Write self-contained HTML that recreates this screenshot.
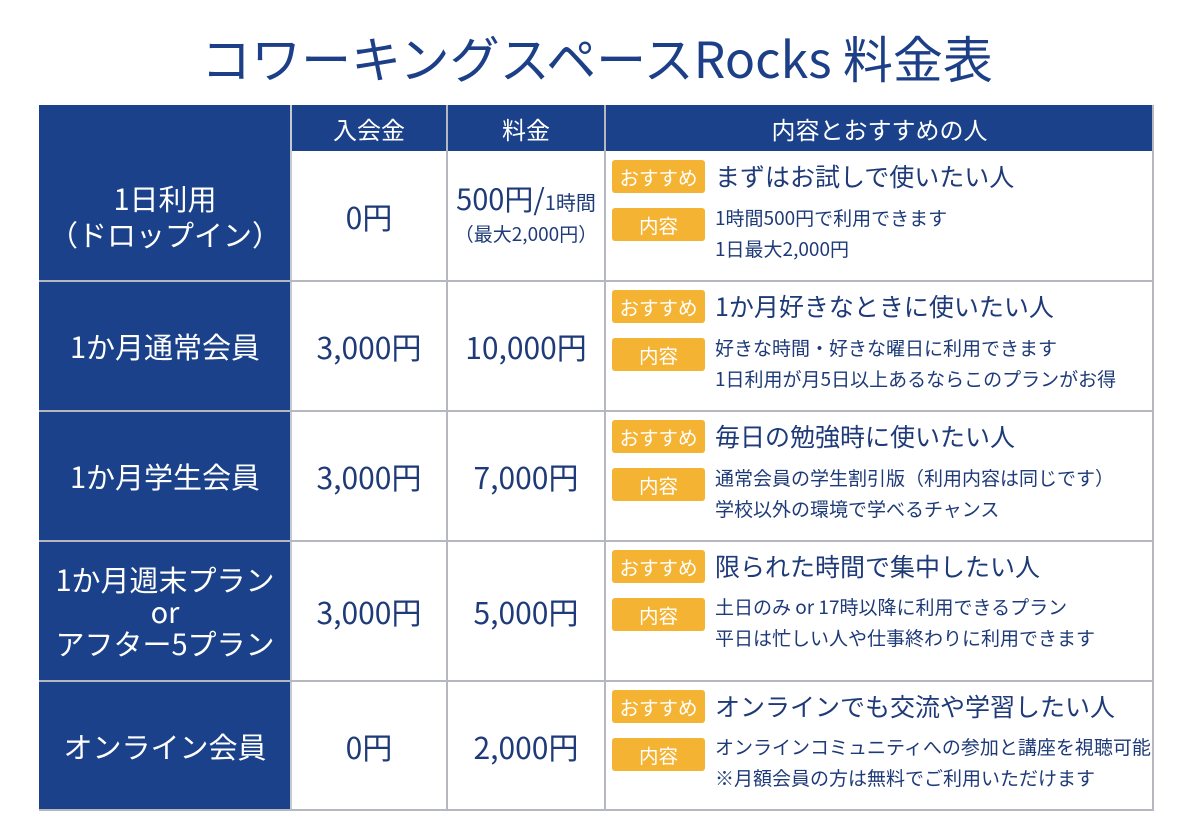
<!DOCTYPE html>
<html><head><meta charset="utf-8"><style>
*{margin:0;padding:0;box-sizing:border-box}
body{width:1194px;height:834px;background:#fff;position:relative;overflow:hidden;font-family:"Noto Sans CJK JP","Liberation Sans",sans-serif;color:#1e3a78}
.a{position:absolute}
.t{left:0;width:1194px;top:22px;text-align:center;font-size:50px;line-height:70px;color:#1c3f87}
.nav{background:#1a4189}
.c{display:flex;align-items:center;justify-content:center;text-align:center}
.w{color:#fff}
.b{position:absolute;left:612px;width:93px;height:33px;background:#f4b332;border-radius:3px;color:#fff;font-size:19.5px;display:flex;align-items:center;justify-content:center}
.r{position:absolute;left:715px;font-size:25px;line-height:32px;white-space:nowrap}
.d{position:absolute;left:715px;font-size:19px;line-height:31px;white-space:nowrap}
.h{position:absolute;background:#b5b8c0;height:2px}
.v{position:absolute;background:#b5b8c0;width:2px}
.L{font-size:29px}
.P{font-size:30px}
</style></head><body>
<div class="a t">コワーキングスペースRocks 料金表</div>
<div class="a nav" style="left:39px;top:105px;width:1115px;height:46px"></div>
<div class="a nav" style="left:39px;top:105px;width:252px;height:706px"></div>
<div class="a c w" style="left:291px;top:105px;width:156px;height:46px;font-size:24px">入会金</div>
<div class="a c w" style="left:447px;top:105px;width:158px;height:46px;font-size:24px">料金</div>
<div class="a c w" style="left:605px;top:105px;width:549px;height:46px;font-size:24px">内容とおすすめの人</div>
<div class="v" style="left:290px;top:105px;height:705px;background:#c5c9d2"></div>
<div class="v" style="left:446px;top:105px;height:705px"></div>
<div class="v" style="left:604px;top:105px;height:705px"></div>
<div class="v" style="left:1152px;top:105px;height:705px"></div>
<div class="h" style="left:39px;top:280px;width:1115px"></div>
<div class="h" style="left:39px;top:410px;width:1115px"></div>
<div class="h" style="left:39px;top:540px;width:1115px"></div>
<div class="h" style="left:39px;top:680px;width:1115px"></div>
<div class="h" style="left:39px;top:809px;width:1115px"></div>

<div class="a c w L" style="left:39px;top:151px;width:252px;height:130px;line-height:36px">1日利用<br>（ドロップイン）</div>
<div class="a c w L" style="left:39px;top:281px;width:252px;height:130px">1か月通常会員</div>
<div class="a c w L" style="left:39px;top:411px;width:252px;height:130px">1か月学生会員</div>
<div class="a c w L" style="left:39px;top:541px;width:252px;height:140px;line-height:32px">1か月週末プラン<br>or<br>アフター5プラン</div>
<div class="a c w L" style="left:39px;top:681px;width:252px;height:129px">オンライン会員</div>

<div class="a c P" style="left:291px;top:151px;width:156px;height:130px">0円</div>
<div class="a c P" style="left:291px;top:281px;width:156px;height:130px">3,000円</div>
<div class="a c P" style="left:291px;top:411px;width:156px;height:130px">3,000円</div>
<div class="a c P" style="left:291px;top:541px;width:156px;height:140px">3,000円</div>
<div class="a c P" style="left:291px;top:681px;width:156px;height:129px">0円</div>

<div class="a c" style="left:447px;top:151px;width:158px;height:130px;flex-direction:column"><div style="font-size:29px;line-height:36px;white-space:nowrap;margin-top:-4px">500円/<span style="font-size:20px">1時間</span></div><div style="font-size:19px;line-height:28px;white-space:nowrap">（最大2,000円）</div></div>
<div class="a c P" style="left:447px;top:281px;width:158px;height:130px">10,000円</div>
<div class="a c P" style="left:447px;top:411px;width:158px;height:130px">7,000円</div>
<div class="a c P" style="left:447px;top:541px;width:158px;height:140px">5,000円</div>
<div class="a c P" style="left:447px;top:681px;width:158px;height:129px">2,000円</div>

<div class="b" style="top:160px">おすすめ</div><div class="r" style="top:160px">まずはお試しで使いたい人</div>
<div class="b" style="top:208px">内容</div><div class="d" style="top:202px">1時間500円で利用できます<br>1日最大2,000円</div>

<div class="b" style="top:290px">おすすめ</div><div class="r" style="top:290px">1か月好きなときに使いたい人</div>
<div class="b" style="top:338px">内容</div><div class="d" style="top:332px">好きな時間・好きな曜日に利用できます<br>1日利用が月5日以上あるならこのプランがお得</div>

<div class="b" style="top:420px">おすすめ</div><div class="r" style="top:420px">毎日の勉強時に使いたい人</div>
<div class="b" style="top:468px">内容</div><div class="d" style="top:462px">通常会員の学生割引版（利用内容は同じです）<br>学校以外の環境で学べるチャンス</div>

<div class="b" style="top:550px">おすすめ</div><div class="r" style="top:550px">限られた時間で集中したい人</div>
<div class="b" style="top:598px">内容</div><div class="d" style="top:591px">土日のみ or 17時以降に利用できるプラン<br>平日は忙しい人や仕事終わりに利用できます</div>

<div class="b" style="top:690px">おすすめ</div><div class="r" style="top:690px">オンラインでも交流や学習したい人</div>
<div class="b" style="top:738px">内容</div><div class="d" style="top:731px">オンラインコミュニティへの参加と講座を視聴可能<br>※月額会員の方は無料でご利用いただけます</div>
</body></html>
